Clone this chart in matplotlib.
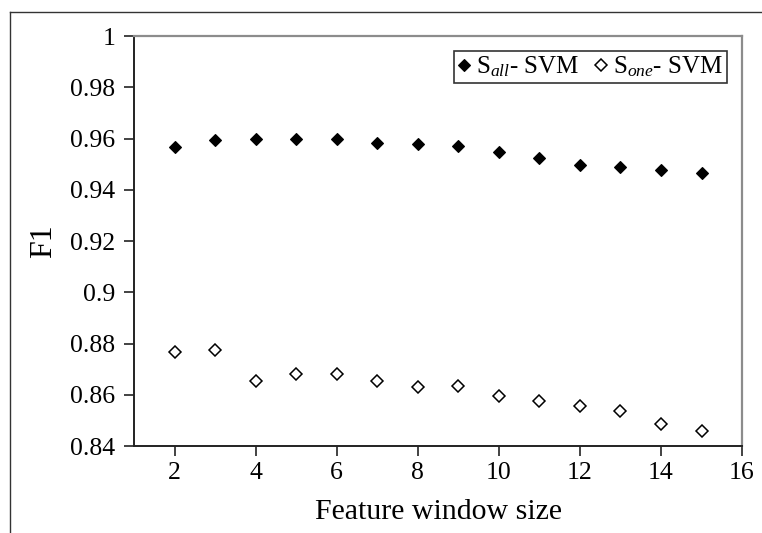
import matplotlib
matplotlib.use("Agg")
import matplotlib.pyplot as plt
from matplotlib.lines import Line2D

plt.rcParams['font.family'] = ['Liberation Serif', 'DejaVu Serif']
plt.rcParams['mathtext.fontset'] = 'custom'
plt.rcParams['mathtext.rm'] = 'Liberation Serif'
plt.rcParams['mathtext.it'] = 'Liberation Serif:italic'

# F1 per feature window size, both feature sets with SVM
window = [2, 3, 4, 5, 6, 7, 8, 9, 10, 11, 12, 13, 14, 15]
f1_all = [0.9566, 0.9595, 0.9597, 0.9600, 0.9600, 0.9584, 0.9579,
          0.9569, 0.9548, 0.9523, 0.9498, 0.9488, 0.9476, 0.9466]
f1_one = [0.8766, 0.8774, 0.8655, 0.8681, 0.8681, 0.8655, 0.8629,
          0.8636, 0.8595, 0.8576, 0.8557, 0.8535, 0.8485, 0.8459]
yticks = [0.84, 0.86, 0.88, 0.9, 0.92, 0.94, 0.96, 0.98, 1]
ytick_labels = ['0.84', '0.86', '0.88', '0.9', '0.92', '0.94', '0.96', '0.98', '1']
xticks = [2, 4, 6, 8, 10, 12, 14, 16]

fig = plt.figure(figsize=(7.62, 5.33), dpi=100)
ax = fig.add_axes([0.1759, 0.1632, 0.7979, 0.7692])

# thin frame around the chart area
fig.add_artist(Line2D([0.0131, 1.0], [0.9775, 0.9775], color='#333333', lw=1.0))
fig.add_artist(Line2D([0.0131, 0.0131], [0.0, 0.9775], color='#333333', lw=1.0))

ax.plot(window, f1_all, linestyle='none', marker='D', markersize=6.6,
        markerfacecolor='black', markeredgecolor='black', markeredgewidth=0.8,
        label=r'S$_{\mathit{all}}$- SVM')
ax.plot(window, f1_one, linestyle='none', marker='D', markersize=6.4,
        markerfacecolor='white', markeredgecolor='black', markeredgewidth=1.1,
        label=r'S$_{\mathit{one}}$- SVM')

ax.set_xlim(1, 16)
ax.set_ylim(0.84, 1.0)
ax.set_xticks(xticks)
ax.set_yticks(yticks)
ax.set_yticklabels(ytick_labels)
ax.tick_params(axis='both', direction='out', length=7.5, width=1.2,
               color='#222222', labelsize=18.5)
ax.tick_params(axis='y', pad=6)
ax.tick_params(axis='x', pad=4)

for side in ['left', 'bottom']:
    ax.spines[side].set_color('#222222')
    ax.spines[side].set_linewidth(1.4)
for side in ['top', 'right']:
    ax.spines[side].set_color('#8c8c8c')
    ax.spines[side].set_linewidth(1.6)

ax.set_ylabel('F1', fontsize=23, labelpad=9)
ax.set_xlabel('Feature window size', fontsize=21.5, labelpad=11)

leg = ax.legend(loc='upper right', ncol=2, fontsize=18, frameon=True,
                fancybox=False, edgecolor='black', handlelength=0.5,
                handletextpad=0.25, columnspacing=0.6, borderpad=0.15,
                borderaxespad=0.6, markerscale=0.9)
leg.get_frame().set_linewidth(1.2)

fig.savefig('out.png', dpi=100)
